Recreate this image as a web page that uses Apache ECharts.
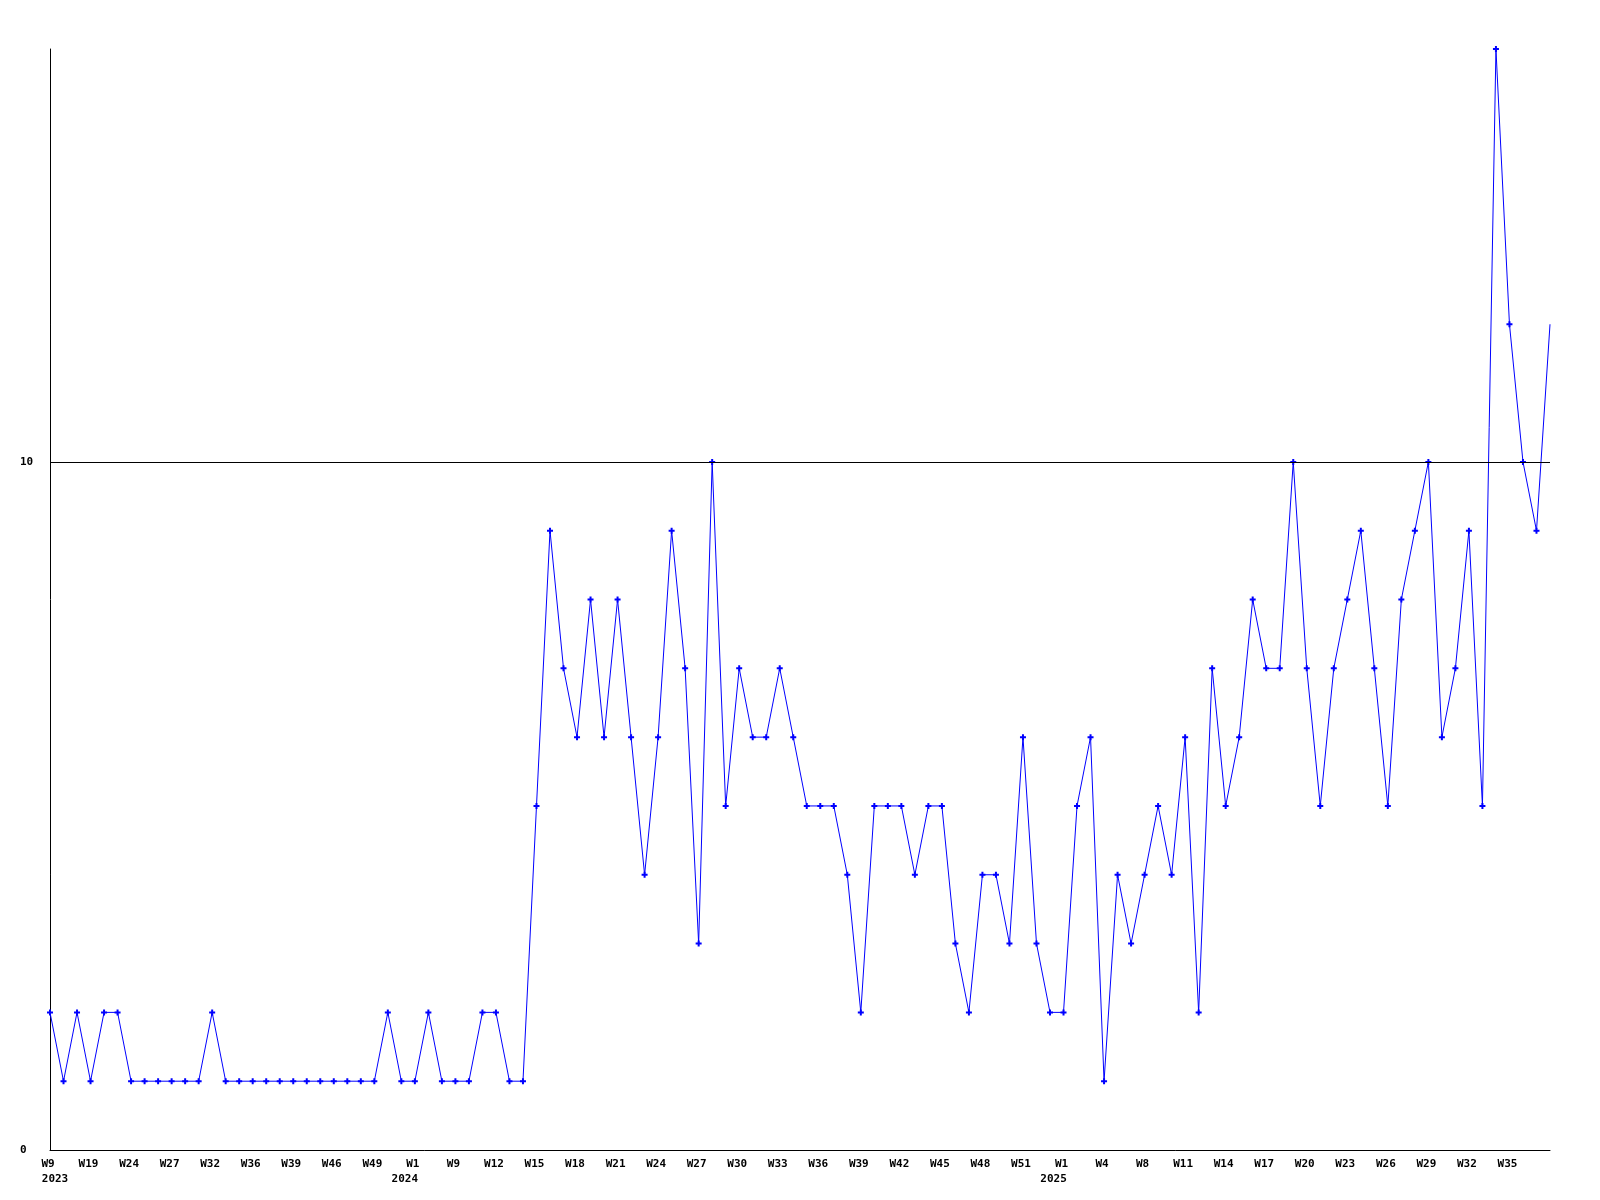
<!DOCTYPE html>
<html>
<head>
<meta charset="utf-8">
<script src="https://cdn.jsdelivr.net/npm/echarts@6/dist/echarts.min.js"></script>
<style>html,body{margin:0;padding:0;background:#fff;}#c{width:1600px;height:1200px;}</style>
</head>
<body>
<div id="c"></div>
<script>
const weeks = [
  'W9','W13','W16','W19','W21','W22','W24','W25','W26','W27','W29','W30',
  'W32','W33','W35','W36','W37','W38','W39','W41','W43','W46','W47','W48',
  'W49','W50','W51','W1','W3','W6','W9','W10','W11','W12','W13','W14',
  'W15','W16','W17','W18','W19','W20','W21','W22','W23','W24','W25','W26',
  'W27','W28','W29','W30','W31','W32','W33','W34','W35','W36','W37','W38',
  'W39','W40','W41','W42','W43','W44','W45','W46','W47','W48','W49','W50',
  'W51','W52','W53','W1','W2','W3','W4','W5','W6','W8','W9','W10',
  'W11','W12','W13','W14','W15','W16','W17','W18','W19','W20','W21','W22',
  'W23','W24','W25','W26','W27','W28','W29','W30','W31','W32','W33','W34',
  'W35','W36','W37','W38'
];
const yearMarks = {0: '2023', 27: '2024', 75: '2025'};
const values = [
  2,1,2,1,2,2,1,1,1,1,1,1,
  2,1,1,1,1,1,1,1,1,1,1,1,
  1,2,1,1,2,1,1,1,2,2,1,1,
  5,9,7,6,8,6,8,6,4,6,9,7,
  3,10,5,7,6,6,7,6,5,5,5,4,
  2,5,5,5,4,5,5,3,2,4,4,3,
  6,3,2,2,5,6,1,4,3,4,5,4,
  6,2,7,5,6,8,7,7,10,7,5,7,
  8,9,7,5,8,9,10,6,7,9,5,16,
  12,10,9,12
];
const yTicks = [0, 10];
const refLine = 10;

const chart = echarts.init(document.getElementById('c'));
const font = '"DejaVu Sans Mono", "Liberation Mono", monospace';
const txt = {color: '#000', fontFamily: font, fontWeight: 'bold', fontSize: 11, lineHeight: 15};
chart.setOption({
  animation: false,
  backgroundColor: '#ffffff',
  grid: {left: 50, right: 50, top: 49, bottom: 50, containLabel: false},
  xAxis: {
    type: 'category',
    data: weeks,
    boundaryGap: false,
    axisLine: {show: true, lineStyle: {color: '#000', width: 1}},
    axisTick: {show: false},
    splitLine: {show: false},
    axisLabel: {
      interval: 2,
      margin: 7,
      showMaxLabel: false,
      color: '#000',
      fontFamily: font,
      fontWeight: 'bold',
      fontSize: 11,
      lineHeight: 15,
      rich: {
        w: Object.assign({padding: [0, 4, 0, 0]}, txt),
        y: Object.assign({padding: [0, 20, 0, 0]}, txt),
        y0: Object.assign({padding: [0, 0, 0, 10]}, txt)
      },
      formatter: function (v, i) {
        const w = '{w|' + v + '}';
        if (!yearMarks[i]) return w;
        return w + '\n{' + (i === 0 ? 'y0' : 'y') + '|' + yearMarks[i] + '}';
      }
    }
  },
  yAxis: {
    type: 'value',
    min: 0,
    max: 16,
    interval: 10,
    axisLine: {show: true, lineStyle: {color: '#000', width: 1}},
    axisTick: {show: false},
    splitLine: {show: false},
    axisLabel: {
      color: '#000',
      fontFamily: font,
      fontWeight: 'bold',
      fontSize: 11,
      margin: 30,
      align: 'left',
      showMaxLabel: false,
      formatter: function (v) { return yTicks.indexOf(v) >= 0 ? String(v) : ''; }
    }
  },
  series: [{
    type: 'line',
    data: values,
    showAllSymbol: true,
    symbol: function (v, p) { return p.dataIndex === values.length - 1 ? 'none' : 'path://M2,0H4V2H6V4H4V6H2V4H0V2H2Z'; },
    symbolSize: 6,
    itemStyle: {color: '#0000ff'},
    lineStyle: {color: '#0000ff', width: 1},
    markLine: {
      silent: true,
      symbol: ['none', 'none'],
      label: {show: false},
      lineStyle: {color: '#000', width: 1, type: 'solid'},
      data: [{yAxis: refLine}]
    },
    z: 3
  }]
});
</script>
</body>
</html>
